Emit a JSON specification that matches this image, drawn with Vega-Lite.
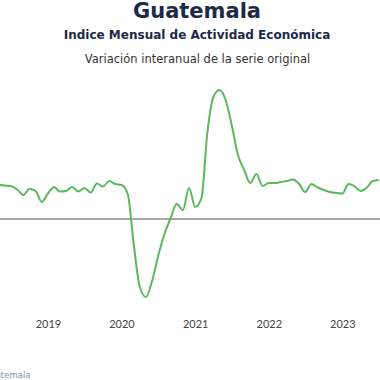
{
  "$schema": "https://vega.github.io/schema/vega-lite/v6.json",
  "width": 380,
  "height": 230,
  "autosize": "none",
  "padding": {"top": 80, "left": 0, "right": 0, "bottom": 70},
  "config": {"view": {"stroke": null}, "font": "DejaVu Sans"},
  "title": {
    "text": "Guatemala",
    "subtitle": "Indice Mensual de  Actividad Económica",
    "anchor": "middle",
    "frame": "group",
    "dx": 7,
    "font": "DejaVu Sans",
    "subtitleFont": "DejaVu Sans",
    "fontSize": 21,
    "fontWeight": "bold",
    "color": "#1b2a47",
    "subtitleFontSize": 12,
    "subtitleFontWeight": "bold",
    "subtitleColor": "#1b2a47",
    "subtitlePadding": 8,
    "offset": 12
  },
  "data": {
    "values": [
      {"fecha": "2018-05-01", "valor": 3.4},
      {"fecha": "2018-06-01", "valor": 3.35},
      {"fecha": "2018-07-01", "valor": 3.3},
      {"fecha": "2018-08-01", "valor": 2.95},
      {"fecha": "2018-09-01", "valor": 2.4},
      {"fecha": "2018-10-01", "valor": 3.0},
      {"fecha": "2018-11-01", "valor": 2.8},
      {"fecha": "2018-12-01", "valor": 1.7},
      {"fecha": "2019-01-01", "valor": 2.55},
      {"fecha": "2019-02-01", "valor": 3.2},
      {"fecha": "2019-03-01", "valor": 2.75},
      {"fecha": "2019-04-01", "valor": 2.8},
      {"fecha": "2019-05-01", "valor": 3.2},
      {"fecha": "2019-06-01", "valor": 2.75},
      {"fecha": "2019-07-01", "valor": 3.1},
      {"fecha": "2019-08-01", "valor": 2.65},
      {"fecha": "2019-09-01", "valor": 3.55},
      {"fecha": "2019-10-01", "valor": 3.25},
      {"fecha": "2019-11-01", "valor": 3.8},
      {"fecha": "2019-12-01", "valor": 3.5},
      {"fecha": "2020-01-01", "valor": 3.4},
      {"fecha": "2020-02-01", "valor": 2.5},
      {"fecha": "2020-03-01", "valor": -2.4},
      {"fecha": "2020-04-01", "valor": -6.8},
      {"fecha": "2020-05-01", "valor": -7.8},
      {"fecha": "2020-06-01", "valor": -6.2},
      {"fecha": "2020-07-01", "valor": -3.7},
      {"fecha": "2020-08-01", "valor": -1.5},
      {"fecha": "2020-09-01", "valor": 0.1},
      {"fecha": "2020-10-01", "valor": 1.5},
      {"fecha": "2020-11-01", "valor": 0.9},
      {"fecha": "2020-12-01", "valor": 3.1},
      {"fecha": "2021-01-01", "valor": 1.2},
      {"fecha": "2021-02-01", "valor": 2.1},
      {"fecha": "2021-03-01", "valor": 8.4},
      {"fecha": "2021-04-01", "valor": 12.2},
      {"fecha": "2021-05-01", "valor": 12.9},
      {"fecha": "2021-06-01", "valor": 11.9},
      {"fecha": "2021-07-01", "valor": 9.4},
      {"fecha": "2021-08-01", "valor": 6.4},
      {"fecha": "2021-09-01", "valor": 4.9},
      {"fecha": "2021-10-01", "valor": 3.6},
      {"fecha": "2021-11-01", "valor": 4.5},
      {"fecha": "2021-12-01", "valor": 3.3},
      {"fecha": "2022-01-01", "valor": 3.6},
      {"fecha": "2022-02-01", "valor": 3.6},
      {"fecha": "2022-03-01", "valor": 3.7},
      {"fecha": "2022-04-01", "valor": 3.8},
      {"fecha": "2022-05-01", "valor": 3.95},
      {"fecha": "2022-06-01", "valor": 3.5},
      {"fecha": "2022-07-01", "valor": 2.7},
      {"fecha": "2022-08-01", "valor": 3.5},
      {"fecha": "2022-09-01", "valor": 3.15},
      {"fecha": "2022-10-01", "valor": 2.9},
      {"fecha": "2022-11-01", "valor": 2.7},
      {"fecha": "2022-12-01", "valor": 2.6},
      {"fecha": "2023-01-01", "valor": 2.55},
      {"fecha": "2023-02-01", "valor": 3.5},
      {"fecha": "2023-03-01", "valor": 3.3},
      {"fecha": "2023-04-01", "valor": 2.8},
      {"fecha": "2023-05-01", "valor": 3.1},
      {"fecha": "2023-06-01", "valor": 3.8},
      {"fecha": "2023-07-01", "valor": 3.9}
    ]
  },
  "layer": [
    {
      "mark": {"type": "rule", "color": "#a6a6a6", "strokeWidth": 1.5},
      "encoding": {
        "y": {"datum": 0, "type": "quantitative", "scale": {"domain": [-9.1, 13.9], "nice": false}, "axis": null}
      }
    },
    {
      "mark": {"type": "line", "interpolate": "monotone", "color": "#5cb85c", "strokeWidth": 2, "clip": true},
      "encoding": {
        "x": {
          "field": "fecha",
          "type": "temporal",
          "scale": {
            "type": "utc",
            "domain": [
              {"year": 2018, "month": 5, "date": 8, "utc": true},
              {"year": 2023, "month": 7, "date": 7, "utc": true}
            ]
          },
          "axis": {
            "orient": "bottom",
            "format": "%Y",
            "values": [
              {"year": 2019, "month": 1, "date": 1, "utc": true},
              {"year": 2020, "month": 1, "date": 1, "utc": true},
              {"year": 2021, "month": 1, "date": 1, "utc": true},
              {"year": 2022, "month": 1, "date": 1, "utc": true},
              {"year": 2023, "month": 1, "date": 1, "utc": true}
            ],
            "labelFont": "Lato",
            "labelFontSize": 11,
            "labelColor": "#444444",
            "labelPadding": 8,
            "ticks": false,
            "domain": false,
            "grid": false,
            "title": "Fuente: Banco de Guatemala",
            "titleFont": "DejaVu Sans",
            "titleFontSize": 8.5,
            "titleFontWeight": "normal",
            "titleColor": "#8a96aa",
            "titleAlign": "right",
            "titleAnchor": "start",
            "titleBaseline": "alphabetic",
            "titleX": 30,
            "titleY": 67
          }
        },
        "y": {"field": "valor", "type": "quantitative", "scale": {"domain": [-9.1, 13.9], "nice": false}, "axis": null}
      }
    },
    {
      "mark": {"type": "point", "opacity": 0},
      "encoding": {
        "x": {
          "field": "fecha",
          "type": "temporal",
          "axis": {
            "orient": "top",
            "labels": false,
            "ticks": false,
            "domain": false,
            "grid": false,
            "title": "Variación interanual de la serie original",
            "titleFont": "DejaVu Sans",
            "titleFontSize": 11.5,
            "titleFontWeight": "normal",
            "titleColor": "#333333",
            "titleAlign": "center",
            "titleBaseline": "alphabetic",
            "titleX": 197,
            "titleY": -18
          }
        },
        "y": {"field": "valor", "type": "quantitative", "axis": null}
      }
    }
  ],
  "resolve": {"axis": {"x": "independent"}}
}
